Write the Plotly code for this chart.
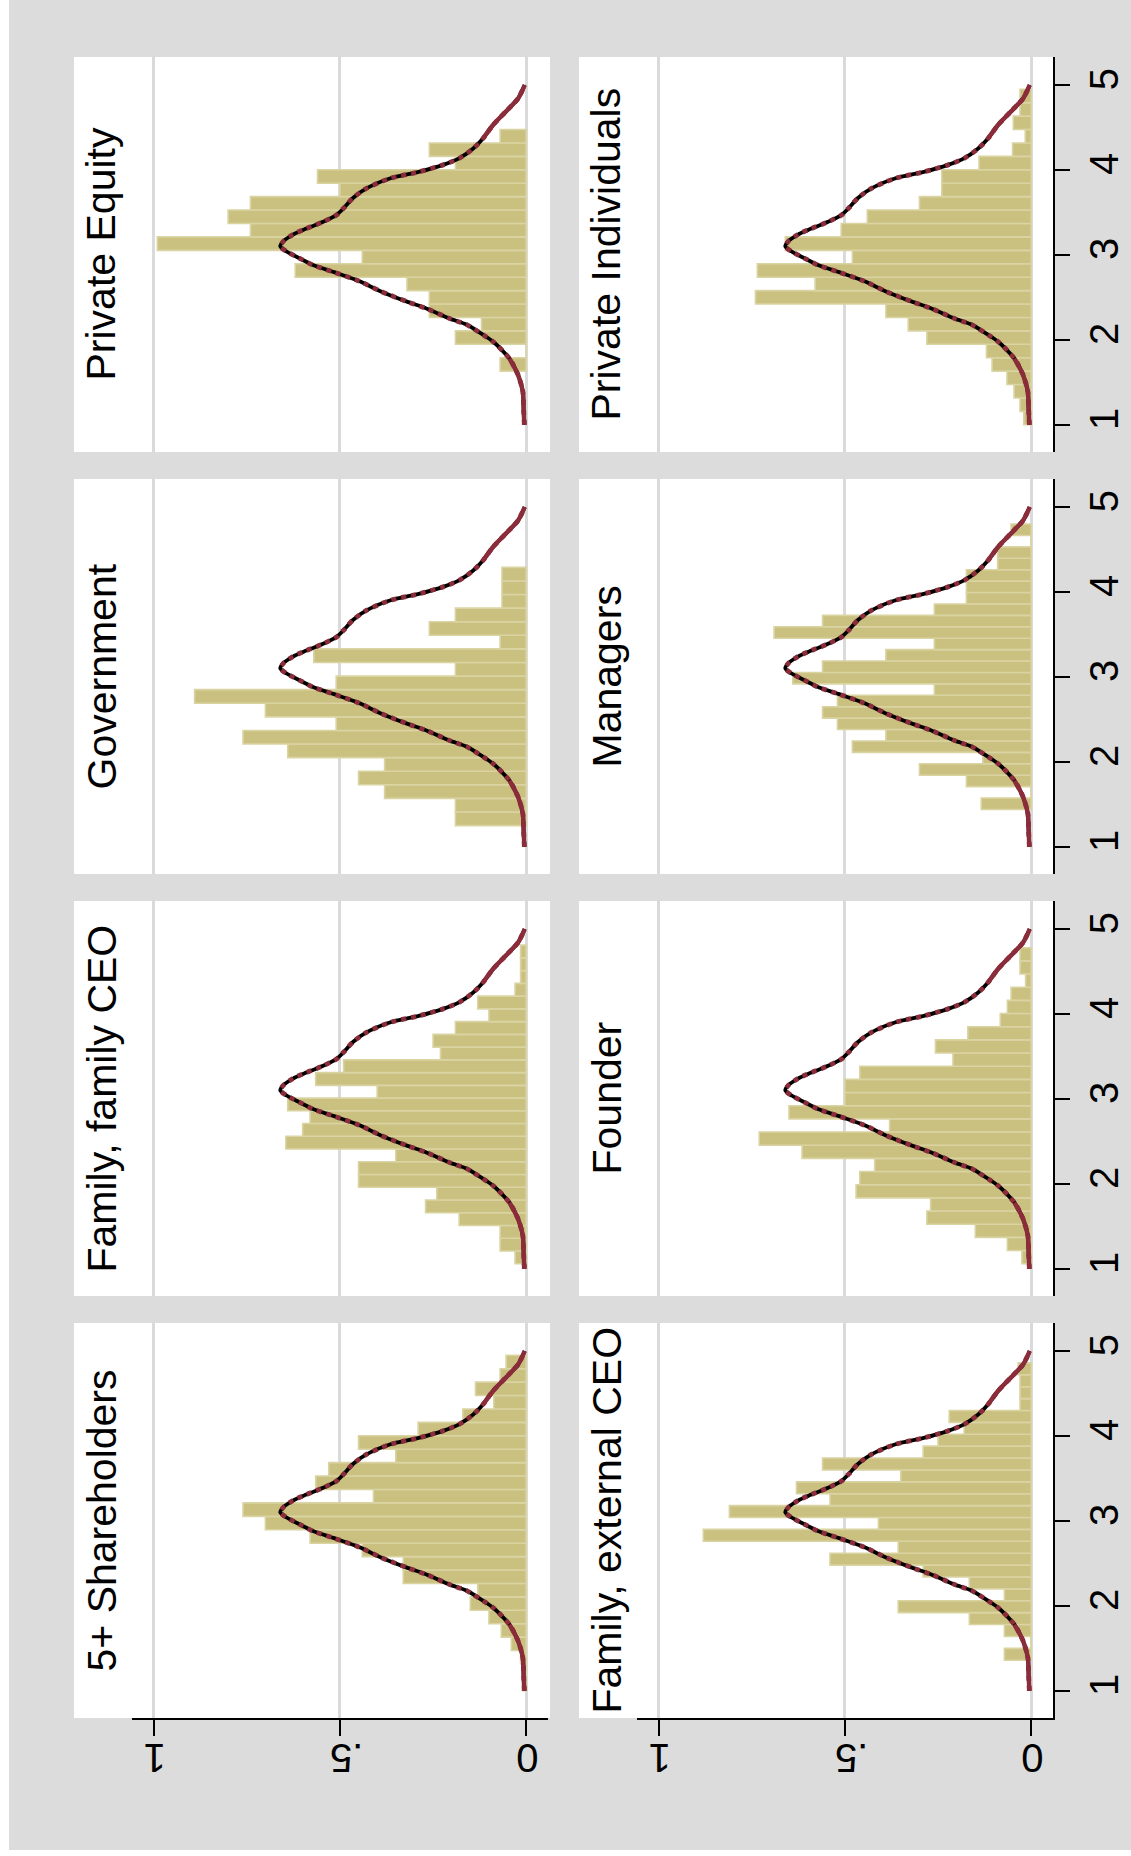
import numpy as np
import plotly.graph_objects as go

W, H = 1131, 1856

# ---------------- data ----------------
titles = ["Private Equity", "Private Individuals",
          "Government", "Managers",
          "Family, family CEO", "Founder",
          "5+ Shareholders", "Family, external CEO"]

# histogram bins of each panel: first edge and bin width (score units)
bin_starts = [1.632, 1.0, 1.25, 1.44, 1.06, 1.06, 1.0, 1.36]
bin_widths = [0.158, 0.158, 0.16, 0.1344, 0.15, 0.155, 0.158, 0.14]

private_equity = [0.07, 0, 0.19, 0.12, 0.26, 0.26, 0.32, 0.62, 0.44, 0.99, 0.74, 0.80,
                  0.74, 0.50, 0.56, 0.19, 0.26, 0.07]
private_individuals = [0.02, 0.03, 0.046, 0.065, 0.105, 0.12, 0.28, 0.33, 0.39, 0.74,
                       0.58, 0.735, 0.48, 0.66, 0.51, 0.44, 0.30, 0.24, 0.24, 0.14,
                       0.05, 0.016, 0.048, 0.03, 0.03]
government = [0.19, 0.19, 0.38, 0.45, 0.38, 0.64, 0.76, 0.51, 0.70, 0.89, 0.51, 0.19,
              0.57, 0.07, 0.26, 0.19, 0.065, 0.065, 0.065]
managers = [0.134, 0, 0.174, 0.30, 0.13, 0.48, 0.39, 0.52, 0.56, 0.52, 0.26, 0.64,
            0.56, 0.39, 0.26, 0.69, 0.56, 0.26, 0.174, 0.174, 0.174, 0.09, 0.09, 0, 0.054]
family_family_ceo = [0.03, 0.07, 0.07, 0.18, 0.27, 0.24, 0.45, 0.45, 0.35, 0.645, 0.60,
                     0.58, 0.64, 0.40, 0.565, 0.49, 0.23, 0.25, 0.19, 0.10, 0.13, 0.03,
                     0.015, 0.015, 0.015]
founder = [0.025, 0.064, 0.15, 0.28, 0.27, 0.47, 0.46, 0.42, 0.615, 0.73, 0.38, 0.65,
           0.50, 0.50, 0.46, 0.21, 0.257, 0.17, 0.083, 0.064, 0.054, 0.015, 0.03, 0.03]
shareholders_5plus = [0.01, 0.01, 0.015, 0.04, 0.067, 0.10, 0.15, 0.13, 0.33, 0.33, 0.44,
                      0.58, 0.70, 0.76, 0.41, 0.565, 0.53, 0.35, 0.45, 0.29, 0.17, 0.087,
                      0.136, 0.07, 0.054]
family_external_ceo = [0.072, 0, 0.072, 0.166, 0.357, 0.072, 0.166, 0.29, 0.54, 0.357,
                       0.88, 0.41, 0.81, 0.54, 0.63, 0.35, 0.56, 0.29, 0.25, 0.18, 0.22,
                       0.03, 0.03, 0.03, 0.035]

heights = [private_equity, private_individuals, government, managers,
           family_family_ceo, founder, shareholders_5plus, family_external_ceo]

# kernel density of the whole sample (same curve in every panel)
kd_score = [1.0, 1.2, 1.39, 1.59, 1.78, 1.98, 2.06, 2.18, 2.25, 2.37, 2.45, 2.57, 2.69,
            2.80, 2.88, 2.96, 3.04, 3.10, 3.16, 3.24, 3.31, 3.39, 3.47, 3.55, 3.67, 3.78,
            3.90, 3.98, 4.06, 4.14, 4.25, 4.37, 4.53, 4.69, 4.84, 5.0]
kd_density = [0.005, 0.007, 0.009, 0.022, 0.045, 0.089, 0.116, 0.16, 0.205, 0.268, 0.32,
              0.39, 0.447, 0.518, 0.572, 0.608, 0.643, 0.66, 0.652, 0.626, 0.59, 0.545,
              0.509, 0.49, 0.465, 0.43, 0.366, 0.286, 0.223, 0.179, 0.143, 0.116, 0.089,
              0.054, 0.022, 0.004]

density_ticks = [0, 0.5, 1]
density_labels = ["0", ".5", "1"]
score_ticks = [1, 2, 3, 4, 5]
score_labels = ["1", "2", "3", "4", "5"]

# ---------------- styling / layout ----------------
FONT = "Liberation Sans, Arial, Helvetica, sans-serif"
BG = "#dcdcdc"
GRID = "#dadada"
BAR_FILL = "#cac181"
BAR_EDGE = "#dad4a3"
MAROON = "#8b2c3a"

col_plot_x = [(132, 548), (637, 1053)]
col_panel_x0 = [74, 579]
row_y = [(57, 452), (479, 874), (901, 1296), (1323, 1718)]
title_x = [101, 606]


def px(x):
    return x / W


def py(y):
    return 1 - y / H


kd_s = np.array(kd_score)
kd_d = np.array(kd_density)
lo = kd_s <= 1.78
hi = kd_s >= 4.37
tail_s = list(kd_s[lo]) + [None] + list(kd_s[hi])
tail_d = list(kd_d[lo]) + [None] + list(kd_d[hi])

fig = go.Figure()
layout = {}
shapes = []
annotations = []

# white outer strips (left and bottom edge of the picture)
shapes.append(dict(type="rect", xref="paper", yref="paper", x0=0, x1=px(9), y0=0, y1=1,
                   fillcolor="white", line=dict(width=0), layer="below"))
shapes.append(dict(type="rect", xref="paper", yref="paper", x0=0, x1=1, y0=0, y1=py(1850),
                   fillcolor="white", line=dict(width=0), layer="below"))

for i in range(8):
    r, c = divmod(i, 2)
    sfx = "" if i == 0 else str(i + 1)
    xa, ya = "x" + sfx, "y" + sfx
    x0, x1 = col_plot_x[c]
    y0, y1 = row_y[r]

    # white panel box incl. title strip
    shapes.append(dict(type="rect", xref="paper", yref="paper",
                       x0=px(col_panel_x0[c]), x1=px(x1 + 2), y0=py(y1), y1=py(y0),
                       fillcolor="white", line=dict(width=0), layer="below"))

    hts = heights[i]
    centers = [bin_starts[i] + bin_widths[i] * (k + 0.5) for k in range(len(hts))]
    fig.add_trace(go.Bar(x=hts, y=centers, width=bin_widths[i], orientation="h", base=0,
                         marker=dict(color=BAR_FILL, line=dict(color=BAR_EDGE, width=1.6)),
                         xaxis=xa, yaxis=ya, hoverinfo="skip", showlegend=False))
    fig.add_trace(go.Scatter(x=kd_density, y=kd_score, mode="lines",
                             line=dict(color="black", width=3.8, shape="spline", smoothing=0.7),
                             xaxis=xa, yaxis=ya, hoverinfo="skip", showlegend=False))
    fig.add_trace(go.Scatter(x=kd_density, y=kd_score, mode="lines",
                             line=dict(color=MAROON, width=4.8, shape="spline", smoothing=0.7,
                                       dash="5px,5px"),
                             xaxis=xa, yaxis=ya, hoverinfo="skip", showlegend=False))
    fig.add_trace(go.Scatter(x=tail_d, y=tail_s, mode="lines",
                             line=dict(color=MAROON, width=4.4, shape="spline", smoothing=0.7),
                             xaxis=xa, yaxis=ya, hoverinfo="skip", showlegend=False))

    bottom = (r == 3)
    right = (c == 1)
    layout["xaxis" + sfx] = dict(
        domain=[px(x0), px(x1)], range=[1.058, -0.0585], anchor=ya,
        tickmode="array", tickvals=density_ticks, ticktext=density_labels,
        showgrid=True, gridcolor=GRID, gridwidth=3, zeroline=False, fixedrange=True,
        showticklabels=bottom, ticks="outside" if bottom else "", ticklen=16, tickwidth=2,
        tickcolor="black", showline=bottom, linecolor="black", linewidth=2,
        tickangle=180, ticklabelshift=10,
        tickfont=dict(size=40, color="black", family=FONT))
    layout["yaxis" + sfx] = dict(
        domain=[py(y1), py(y0)], range=[0.68, 5.33], anchor=xa, side="right",
        tickmode="array", tickvals=score_ticks, ticktext=score_labels,
        showgrid=False, zeroline=False, fixedrange=True,
        showticklabels=right, ticks="outside" if right else "", ticklen=15, tickwidth=2,
        tickcolor="black", showline=right, linecolor="black", linewidth=2,
        tickangle=-90,
        tickfont=dict(size=40, color="black", family=FONT))

    annotations.append(dict(text=titles[i], xref="paper", yref="paper",
                            x=px(title_x[c]), y=py((y0 + y1) / 2), textangle=-90,
                            showarrow=False, xanchor="center", yanchor="middle",
                            font=dict(size=41, color="black", family=FONT)))

fig.update_layout(width=W, height=H, margin=dict(l=0, r=0, t=0, b=0, pad=0),
                  paper_bgcolor=BG, plot_bgcolor="white", showlegend=False,
                  shapes=shapes, annotations=annotations, **layout)

fig.write_html("out.html", config={"displayModeBar": False},
               post_script=("document.documentElement.style.margin='0';"
                            "document.documentElement.style.overflow='hidden';"
                            "document.body.style.margin='0';"
                            "document.body.style.overflow='hidden';"))
